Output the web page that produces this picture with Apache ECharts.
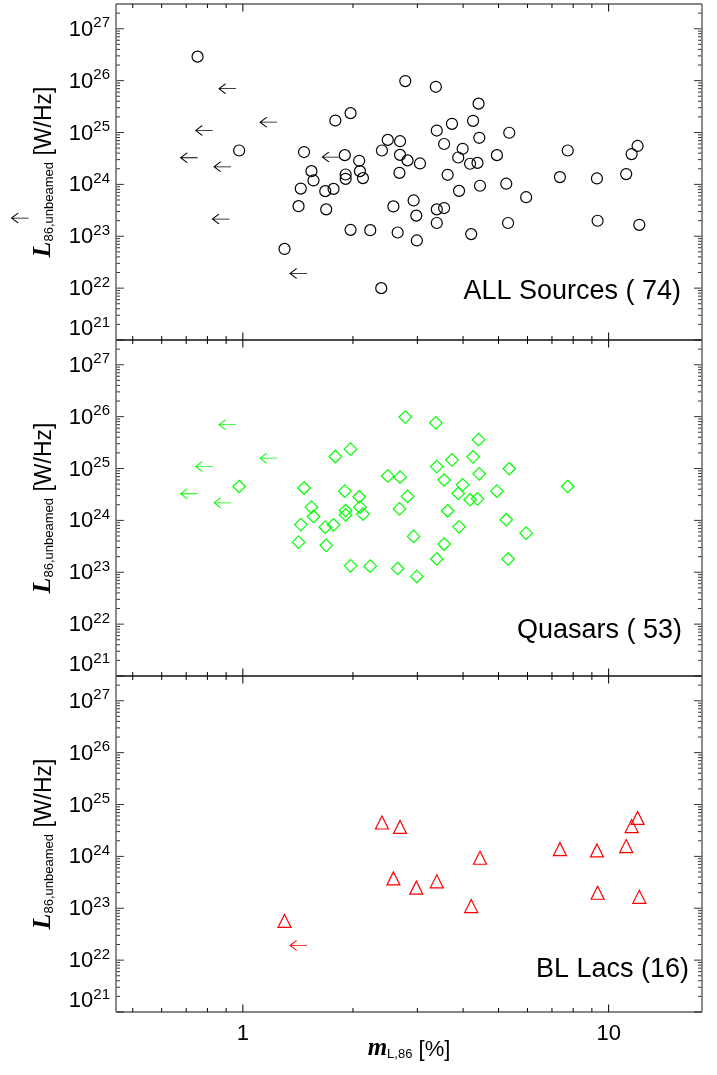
<!DOCTYPE html>
<html>
<head>
<meta charset="utf-8">
<title>L86 unbeamed vs m_L,86</title>
<script src="https://cdn.jsdelivr.net/npm/echarts@6.0.0/dist/echarts.min.js"></script>
<style>
  html, body { margin: 0; padding: 0; background: #fff; }
  #chart { width: 717px; height: 1075px; }
</style>
</head>
<body>
<div id="chart"></div>
<script>
// quasars: m_L,86 [%] vs L_86,unbeamed [W/Hz]
const quasarM = [0.977, 1.47, 1.79, 1.54, 1.56, 1.44, 1.68, 1.77, 1.42, 1.69,
  2.78, 3.37, 4.41, 1.97, 3.73, 4.26, 3.39, 5.35, 2.49, 2.69,
  3.55, 4.43, 3.99, 7.73, 1.90, 2.08, 2.82, 3.88, 4.95, 4.18,
  4.38, 1.91, 2.09, 1.91, 2.13, 2.68, 3.63, 5.25, 3.90, 5.95,
  2.93, 3.55, 3.39, 5.31, 1.97, 2.23, 2.65, 2.99]
const quasarL = [4.5e24, 4.2e24, 1.7e25, 1.8e24, 1.19e24, 8.3e23, 7.4e23, 8.2e23, 3.8e23, 3.3e23,
  9.8e25, 7.6e25, 3.6e25, 2.36e25, 1.47e25, 1.68e25, 1.09e25, 9.9e24, 7.2e24, 6.8e24,
  6.0e24, 7.9e24, 4.85e24, 4.5e24, 3.66e24, 2.85e24, 2.9e24, 3.3e24, 3.66e24, 2.5e24,
  2.6e24, 1.55e24, 1.8e24, 1.28e24, 1.32e24, 1.67e24, 1.53e24, 1.03e24, 7.5e23, 5.66e23,
  4.9e23, 3.5e23, 1.8e23, 1.8e23, 1.33e23, 1.31e23, 1.18e23, 8.3e22]
// quasar upper limits (arrows)
const quasarLimM = [0.908, 0.784, 0.713, 0.880, 1.176]
const quasarLimL = [7.0e25, 1.09e25, 3.26e24, 2.18e24, 1.58e25]

// BL Lacs
const bllacM = [1.30, 2.40, 2.69, 2.58, 2.98, 3.39, 4.21, 4.45, 7.36, 9.29, 11.17, 11.56, 12.0, 9.33, 12.13]
const bllacL = [5.7e22, 4.5e24, 3.7e24, 3.76e23, 2.5e23, 3.3e23, 1.1e23, 9.4e23, 1.38e24, 1.3e24, 1.58e24, 3.84e24, 5.5e24, 1.99e23, 1.66e23]
const bllacLimM = [1.42]
const bllacLimL = [1.92e22]

// remaining sources (only in the ALL panel)
const otherM = [0.752, 2.39, 3.05]
const otherL = [2.9e26, 1.0e22, 2.53e24]
const otherLimM = [0.871, 1.74, 0.246]
const otherLimL = [2.14e23, 3.36e24, 2.24e23]

// axes
const xMin = 0.45
const xMax = 18
const yMin = 1e21
const yMax = 3e27
const xMajorTicks = [1, 10]
const xMinorTicks = [0.5, 0.6, 0.7, 0.8, 0.9, 2, 3, 4, 5, 6, 7, 8, 9]
const yMajorTicks = [1e21, 1e22, 1e23, 1e24, 1e25, 1e26, 1e27]
const yMinorSteps = [2, 3, 4, 5, 6, 7, 8, 9]
const panelLabels = ['ALL Sources ( 74)', 'Quasars ( 53)', 'BL Lacs (16)']

const FONT = 'Liberation Sans'
const arrowPath = 'path://M0,5 L18,5 M7,0 L0,5 L7,10'

const pts = (xs, ys) => xs.map((x, i) => [x, ys[i]])

const panels = [
  {
    symbol: 'circle', size: 11, color: '#000000',
    points: pts(quasarM.concat(bllacM, otherM), quasarL.concat(bllacL, otherL)),
    limits: pts(quasarLimM.concat(bllacLimM, otherLimM), quasarLimL.concat(bllacLimL, otherLimL)),
    labelPos: [681, 292]
  },
  {
    symbol: 'diamond', size: 12.5, color: '#00ff00',
    points: pts(quasarM, quasarL),
    limits: pts(quasarLimM, quasarLimL),
    labelPos: [682, 631]
  },
  {
    symbol: 'triangle', size: 13, color: '#ff0000',
    points: pts(bllacM, bllacL),
    limits: pts(bllacLimM, bllacLimL),
    labelPos: [689, 970]
  }
]

const gridTops = [4, 340, 676]
const isTick = (v, list) => list.some(t => Math.abs(Math.log10(v) - Math.log10(t)) < 1e-6)

const yLabel = (v) => {
  if (!isTick(v, yMajorTicks)) return ''
  const e = Math.round(Math.log10(v))
  // the lowest label sits a bit higher, as in the original
  if (e === 21) return '{bb|10}{bs|' + e + '}'
  return '{b|10}{s|' + e + '}'
}

const yRich = {
  b: { fontSize: 22, fontFamily: FONT, color: '#000', lineHeight: 24, verticalAlign: 'bottom' },
  s: { fontSize: 15, fontFamily: FONT, color: '#000', lineHeight: 15, padding: [0, 0, 10, 0], verticalAlign: 'bottom' },
  bb: { fontSize: 22, fontFamily: FONT, color: '#000', lineHeight: 24, padding: [0, 0, 12, 0], verticalAlign: 'bottom' },
  bs: { fontSize: 15, fontFamily: FONT, color: '#000', lineHeight: 15, padding: [0, 0, 22, 0], verticalAlign: 'bottom' }
}

// frame + inward IDL style ticks on all four sides
const frameItem = (params, api) => {
  const cs = params.coordSys
  const L = cs.x, R = cs.x + cs.width, T = cs.y, B = cs.y + cs.height
  const kids = []
  const ln = (x1, y1, x2, y2, stroke, w) => ({
    type: 'line', silent: true,
    shape: { x1, y1, x2, y2 },
    style: { stroke, lineWidth: w }
  })
  const xTick = (v, len) => {
    const px = api.coord([v, yMin])[0]
    kids.push(ln(px, B, px, B - len, '#000', 1))
    kids.push(ln(px, T, px, T + len, '#000', 1))
  }
  const yTick = (v, len) => {
    const py = api.coord([xMin, v])[1]
    kids.push(ln(L, py, L + len, py, '#333', 1))
    kids.push(ln(R, py, R - len, py, '#333', 1))
  }
  xMajorTicks.forEach(v => xTick(v, 7.5))
  xMinorTicks.forEach(v => xTick(v, 4))
  yMajorTicks.forEach(v => yTick(v, 8))
  yMajorTicks.forEach(d => yMinorSteps.forEach(m => {
    if (d * m < yMax) yTick(d * m, 4)
  }))
  kids.push(ln(L, T, R, T, '#111', 1.2))
  kids.push(ln(L, B, R, B, '#111', 1.2))
  kids.push(ln(L, T, L, B, '#6f6f6f', 1.6))
  kids.push(ln(R, T, R, B, '#6f6f6f', 1.6))
  return { type: 'group', children: kids }
}

const grid = gridTops.map(top => ({
  left: 116, top: top, width: 586, height: 336,
  outerBoundsMode: 'none'
}))

const xAxis = gridTops.map((t, i) => ({
  type: 'log', logBase: 10, gridIndex: i, min: xMin, max: xMax,
  axisLine: { show: false }, axisTick: { show: false }, splitLine: { show: false },
  axisLabel: {
    show: i === 2, margin: 11, fontSize: 22, fontFamily: FONT, color: '#000',
    formatter: v => (isTick(v, xMajorTicks) ? String(Math.round(v)) : '')
  },
  name: i === 2 ? '{m|m}{sub|L,86}{u| [%]}' : '',
  nameLocation: 'middle', nameGap: 23, nameMoveOverlap: false,
  nameTextStyle: {
    rich: {
      m: { fontSize: 25, fontFamily: 'Liberation Serif', fontStyle: 'italic', fontWeight: 'bold', color: '#000', lineHeight: 26, verticalAlign: 'bottom' },
      sub: { fontSize: 13, fontFamily: FONT, color: '#000', lineHeight: 13, verticalAlign: 'bottom' },
      u: { fontSize: 22, fontFamily: FONT, color: '#000', lineHeight: 26, verticalAlign: 'bottom' }
    }
  }
}))

const yAxis = gridTops.map((t, i) => ({
  type: 'log', logBase: 10, gridIndex: i, min: yMin, max: yMax,
  axisLine: { show: false }, axisTick: { show: false }, splitLine: { show: false },
  axisLabel: { margin: 6, formatter: yLabel, rich: yRich },
  name: '{L|L}{sub|86,unbeamed}{u| [W/Hz]}',
  nameLocation: 'middle', nameRotate: 90, nameGap: 60, nameMoveOverlap: false,
  nameTextStyle: {
    rich: {
      L: { fontSize: 26, fontFamily: 'Liberation Serif', fontStyle: 'italic', fontWeight: 'bold', color: '#000', lineHeight: 26, verticalAlign: 'bottom' },
      sub: { fontSize: 13, fontFamily: FONT, color: '#000', lineHeight: 13, verticalAlign: 'bottom' },
      u: { fontSize: 23, fontFamily: FONT, color: '#000', lineHeight: 26, verticalAlign: 'bottom' }
    }
  }
}))

const series = []
panels.forEach((p, i) => {
  series.push({
    type: 'custom', xAxisIndex: i, yAxisIndex: i, silent: true,
    data: [[1, 1e24]], renderItem: frameItem, z: 1
  })
  series.push({
    type: 'scatter', xAxisIndex: i, yAxisIndex: i, silent: true,
    symbol: p.symbol, symbolSize: p.size,
    itemStyle: { color: 'transparent', borderColor: p.color, borderWidth: 1.2, opacity: 1 },
    emphasis: { disabled: true },
    data: p.points, z: 3
  })
  series.push({
    type: 'scatter', xAxisIndex: i, yAxisIndex: i, silent: true, clip: false,
    symbol: arrowPath, symbolSize: [17, 10],
    itemStyle: { color: 'transparent', borderColor: p.color, borderWidth: 1, opacity: 1 },
    emphasis: { disabled: true },
    data: p.limits, z: 3
  })
})

const graphic = panels.map((p, i) => ({
  type: 'text', x: p.labelPos[0], y: p.labelPos[1], silent: true,
  style: {
    text: panelLabels[i], fill: '#000',
    font: '27px "' + FONT + '"',
    align: 'right', verticalAlign: 'middle'
  }
}))

const chart = echarts.init(document.getElementById('chart'))
chart.setOption({
  animation: false,
  backgroundColor: '#ffffff',
  grid, xAxis, yAxis, series, graphic
})
</script>
</body>
</html>
